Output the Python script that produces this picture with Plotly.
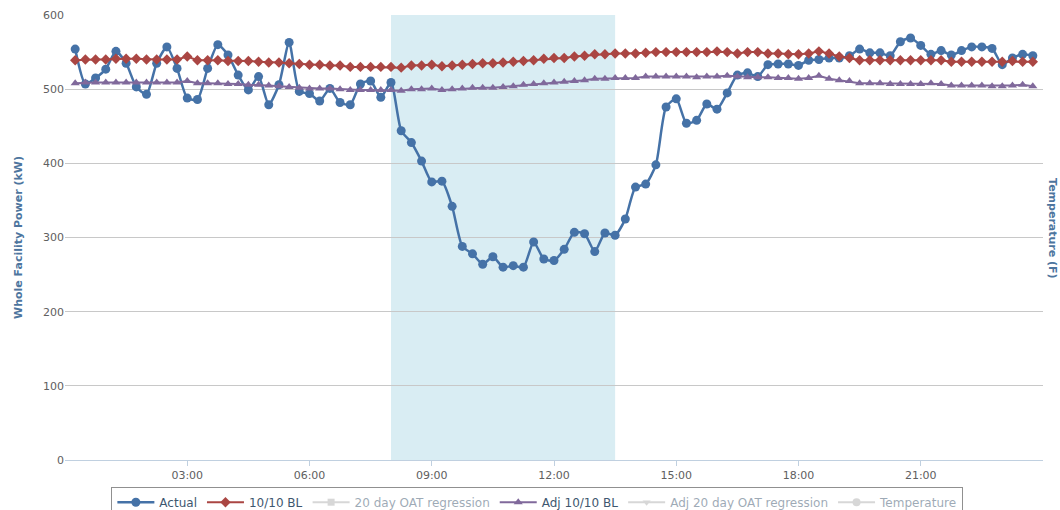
import pandas as pd
import plotly.graph_objects as go

# ---------------- data ----------------
start_time = "2014-10-14 00:15"
n_points = 95  # 00:15 .. 23:45 every 15 min

actual = [554, 507, 515, 527, 551, 535, 503, 493, 535, 557, 528, 488, 486, 528, 560,
          546, 519, 499, 517, 479, 506, 563, 497, 494, 484, 501, 482, 479, 507, 511,
          489, 509, 444, 428, 403, 375, 376, 342, 288, 278, 264, 274, 260, 262, 260,
          294, 271, 269, 284, 307, 305, 281, 306, 303, 325, 368, 372, 398, 476, 487,
          454, 458, 480, 473, 495, 519, 522, 517, 533, 534, 534, 532, 539, 540, 542,
          542, 545, 554, 549, 549, 545, 564, 569, 559, 547, 552, 546, 552, 557, 557,
          555, 533, 542, 547, 545]

bl_1010 = [539, 540, 540, 540, 541, 541, 541, 540, 540, 540, 540, 544, 539, 539, 539,
           538, 538, 538, 537, 536, 536, 535, 534, 533, 533, 532, 532, 530, 530, 530,
           530, 530, 529, 532, 532, 533, 531, 532, 533, 534, 535, 535, 536, 537, 538,
           539, 541, 542, 542, 544, 545, 547, 547, 548, 548, 548, 549, 550, 550, 550,
           550, 550, 550, 551, 550, 548, 550, 550, 548, 548, 547, 547, 548, 551, 548,
           544, 542, 539, 539, 539, 539, 539, 539, 539, 539, 539, 537, 537, 537, 537,
           537, 537, 538, 537, 537]

adj_bl_1010 = [508, 509, 509, 509, 509, 509, 509, 509, 509, 509, 509, 511, 508, 508, 508,
               507, 507, 506, 506, 505, 504, 503, 502, 501, 501, 501, 500, 499, 499, 499,
               499, 499, 498, 500, 500, 501, 499, 500, 501, 502, 502, 502, 503, 504, 506,
               507, 508, 509, 510, 511, 512, 514, 514, 515, 515, 515, 517, 517, 517, 517,
               517, 516, 517, 517, 518, 517, 516, 516, 516, 515, 515, 514, 515, 518, 514,
               512, 511, 508, 508, 508, 507, 507, 507, 507, 508, 507, 505, 505, 505, 505,
               504, 504, 505, 506, 504]

# hidden (legend-only) series: no values shown in the chart
hidden_placeholder = [None]

event_start = "2014-10-14 08:00"
event_end = "2014-10-14 13:30"

tick_labels = ["03:00", "06:00", "09:00", "12:00", "15:00", "18:00", "21:00"]
y_ticks = [0, 100, 200, 300, 400, 500, 600]

# ---------------- figure ----------------
times = pd.date_range(start_time, periods=n_points, freq="15min")
day = "2014-10-14"
tick_vals = [pd.Timestamp(f"{day} {t}") for t in tick_labels]

fig = go.Figure()

fig.add_vrect(x0=event_start, x1=event_end, fillcolor="#d9edf3", opacity=1,
              line_width=0, layer="below")

fig.add_trace(go.Scatter(x=times, y=actual, name="Actual", mode="lines+markers",
                         line=dict(color="#4572A7", width=2.5, shape="spline", smoothing=0.6),
                         marker=dict(symbol="circle", size=9, color="#4572A7")))
fig.add_trace(go.Scatter(x=times, y=bl_1010, name="10/10 BL", mode="lines+markers",
                         line=dict(color="#AA4643", width=2),
                         marker=dict(symbol="diamond", size=8, color="#AA4643")))
fig.add_trace(go.Scatter(x=times[:1], y=hidden_placeholder, name="20 day OAT regression",
                         mode="lines+markers", visible="legendonly",
                         line=dict(color="#b0b0b0", width=2),
                         marker=dict(symbol="square", size=7, color="#b0b0b0")))
fig.add_trace(go.Scatter(x=times, y=adj_bl_1010, name="Adj 10/10 BL", mode="lines+markers",
                         line=dict(color="#80699B", width=2),
                         marker=dict(symbol="triangle-up", size=8, color="#80699B")))
fig.add_trace(go.Scatter(x=times[:1], y=hidden_placeholder, name="Adj 20 day OAT regression",
                         mode="lines+markers", visible="legendonly",
                         line=dict(color="#b0b0b0", width=2),
                         marker=dict(symbol="triangle-down", size=7, color="#b0b0b0")))
fig.add_trace(go.Scatter(x=times[:1], y=hidden_placeholder, name="Temperature",
                         mode="lines+markers", visible="legendonly",
                         line=dict(color="#b0b0b0", width=2),
                         marker=dict(symbol="circle", size=8, color="#b0b0b0")))

fig.add_annotation(text="<b>Temperature (F)</b>", xref="paper", yref="paper",
                   x=1, y=0.52, xanchor="left", yanchor="middle", xshift=1,
                   textangle=90, showarrow=False,
                   font=dict(family="DejaVu Sans", size=11, color="#4d759e"))

fig.update_layout(
    width=1060, height=510,
    margin=dict(l=65, r=17, t=15, b=50, autoexpand=False),
    paper_bgcolor="white", plot_bgcolor="white",
    font=dict(family="DejaVu Sans", size=11, color="#606060"),
    showlegend=True,
    legend=dict(orientation="h", x=0.483, xanchor="center", y=-0.06, yanchor="top",
                bgcolor="white", bordercolor="#909090", borderwidth=1,
                font=dict(family="DejaVu Sans", size=12, color="#3e576f"),
                itemwidth=37),
    xaxis=dict(range=[pd.Timestamp(f"{day} 00:00"), pd.Timestamp(f"{day} 00:00") + pd.Timedelta(hours=24)],
               tickvals=tick_vals, ticktext=tick_labels,
               showgrid=False, zeroline=False, automargin=False,
               showline=True, linecolor="#c0d0e0", linewidth=1,
               ticks="outside", ticklen=5, tickcolor="#c0d0e0",
               tickfont=dict(size=11, color="#606060")),
    yaxis=dict(range=[0, 600], tickvals=y_ticks, showgrid=True, gridcolor="#c8c8c8",
               gridwidth=1, zeroline=False, showline=False, automargin=False,
               title=dict(text="<b>Whole Facility Power (kW)</b>",
                          font=dict(size=11, color="#4d759e"), standoff=18),
               tickfont=dict(size=11, color="#606060")),
)

fig.write_html("out.html", config={"displayModeBar": False},
               post_script="document.body.style.margin='0';")
